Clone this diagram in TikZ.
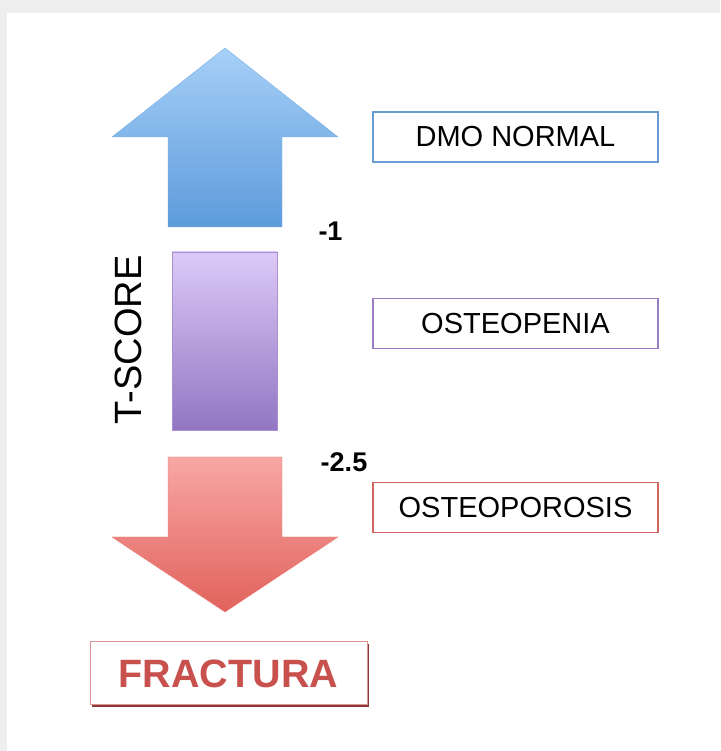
\documentclass[tikz,border=0pt]{standalone}
\usepackage{fontspec}
\setmainfont{Liberation Sans}
\usepackage{xcolor}
\definecolor{dmoblue}{HTML}{6A9BD3}
\definecolor{penpurple}{HTML}{9A7DC2}
\definecolor{porred}{HTML}{D06460}
\definecolor{fracred}{HTML}{C8504D}
\definecolor{bggray}{HTML}{EEEEEE}
\definecolor{uptop}{HTML}{A6D0F7}
\definecolor{upbot}{HTML}{5D9BDC}
\definecolor{midtop}{HTML}{DCC9F7}
\definecolor{midbot}{HTML}{9276C3}
\definecolor{downtop}{HTML}{F7A7A4}
\definecolor{downbot}{HTML}{E2625C}

\tikzset{
  levelbox/.style={draw,line width=1.6pt,fill=white,minimum width=285pt,minimum height=50pt,
    font=\fontsize{29}{30}\selectfont,inner sep=0pt},
  cutoff/.style={font=\bfseries\fontsize{27}{28}\selectfont,inner sep=0pt}
}

\begin{document}
\begin{tikzpicture}[x=1pt,y=1pt]
  \useasboundingbox (0,0) rectangle (720,751);
  \fill[bggray] (0,0) rectangle (720,751);
  \fill[white] (7,0) rectangle (720,738);

  % up arrow
  \shade[top color=uptop,bottom color=upbot,draw=upbot!80,line width=0.4pt]
    (168,524) -- (168,614) -- (112,614) -- (225,703) -- (338,614) -- (282,614) -- (282,524) -- cycle;
  % middle bar
  \shade[top color=midtop,bottom color=midbot,draw=midbot!80,line width=0.4pt]
    (172,321) rectangle (277,499);
  % down arrow
  \shade[top color=downtop,bottom color=downbot,draw=downbot!80,line width=0.4pt]
    (168,294) -- (168,214) -- (112,214) -- (225,139) -- (338,214) -- (282,214) -- (282,294) -- cycle;

  \node[rotate=90,font=\fontsize{38}{40}\selectfont] (tscore) at (128,411) {T-SCORE};
  \node[cutoff] (minusone) at (330.5,520) {-1};
  \node[cutoff] (minustwo) at (344,289) {-2.5};

  \node[levelbox,draw=dmoblue] (normal) at (515.5,614) {DMO NORMAL};
  \node[levelbox,draw=penpurple] (penia) at (515.5,427.5) {OSTEOPENIA};
  \node[levelbox,draw=porred] (porosis) at (515.5,243.5) {OSTEOPOROSIS};

  % fractura box with shadow
  \fill[fracred!70!black] (92,44) rectangle (369,107);
  \node[draw=fracred!60,line width=1pt,fill=white,minimum width=277pt,minimum height=63pt,inner sep=0pt,
    text=fracred,font=\bfseries\fontsize{39.5}{40}\selectfont] (fractura) at (228.5,77.5) {FRACTURA};
\end{tikzpicture}
\end{document}
